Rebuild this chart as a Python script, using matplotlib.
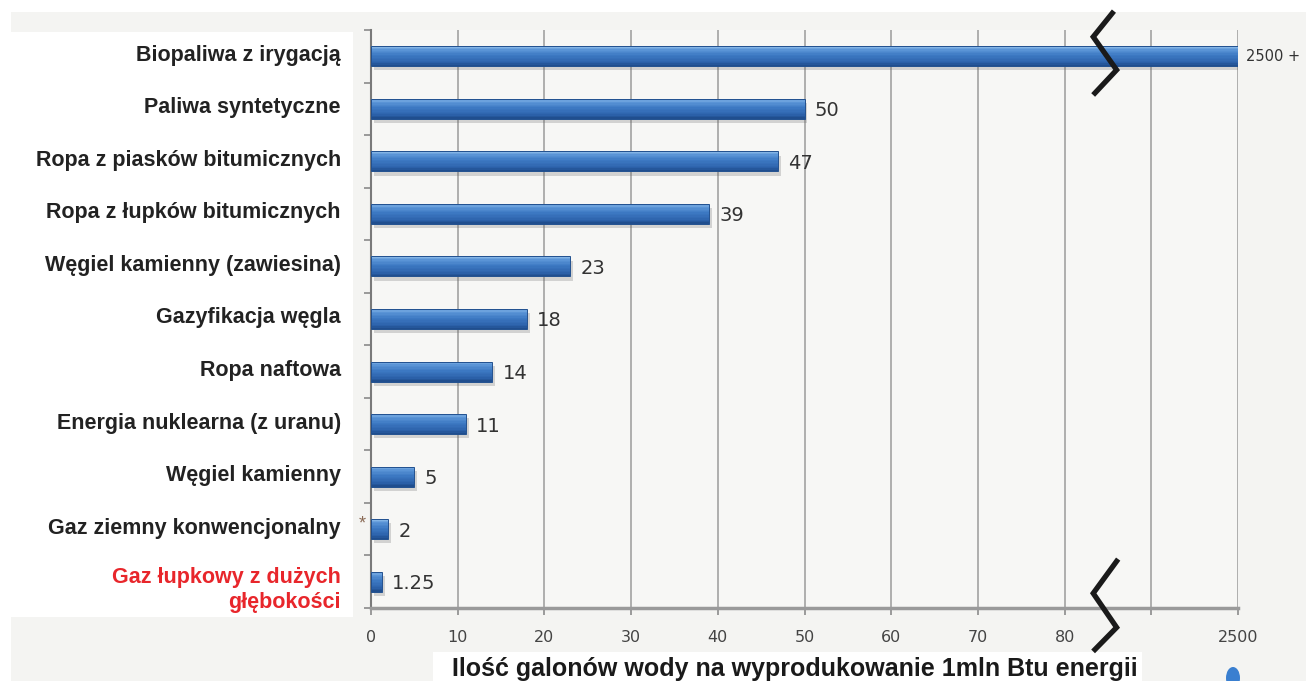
import numpy as np
import matplotlib
matplotlib.use("Agg")
import matplotlib.pyplot as plt
from matplotlib.patches import Rectangle, Ellipse
from matplotlib import patheffects as pe
from matplotlib.colors import LinearSegmentedColormap
from matplotlib.transforms import offset_copy

# ---- data -------------------------------------------------------------
categories = [
    "Biopaliwa z irygacją",
    "Paliwa syntetyczne",
    "Ropa z piasków bitumicznych",
    "Ropa z łupków bitumicznych",
    "Węgiel kamienny (zawiesina)",
    "Gazyfikacja węgla",
    "Ropa naftowa",
    "Energia nuklearna (z uranu)",
    "Węgiel kamienny",
    "Gaz ziemny konwencjonalny",
    "Gaz łupkowy z dużych\ngłębokości",
]
values = [2500, 50, 47, 39, 23, 18, 14, 11, 5, 2, 1.25]
value_labels = ["2500 +", "50", "47", "39", "23", "18", "14", "11", "5", "2", "1.25"]
tick_values = [0, 10, 20, 30, 40, 50, 60, 70, 80, 90, 2500]
tick_labels = ["0", "10", "20", "30", "40", "50", "60", "70", "80", "", "2500"]
x_title = "Ilość galonów wody na wyprodukowanie 1mln Btu energii"

# ---- broken x scale: linear up to 90, then compressed up to 2500 --------
BREAK, TOP, SPAN = 90.0, 2500.0, 10.0


def fwd(v):
    v = np.asarray(v, dtype=float)
    return np.where(v <= BREAK, v, BREAK + (v - BREAK) * SPAN / (TOP - BREAK))


def inv(u):
    u = np.asarray(u, dtype=float)
    return np.where(u <= BREAK, u, BREAK + (u - BREAK) * (TOP - BREAK) / SPAN)


plt.rcParams["font.family"] = ["Liberation Sans", "DejaVu Sans"]
NUM_FONT = "DejaVu Sans"

fig = plt.figure(figsize=(13.06, 6.81), dpi=100, facecolor="white")
W, H = 1306.0, 681.0

# background panels
fig.patches.append(Rectangle((11 / W, 0), 1 - 11 / W, 1 - 12 / H,
                             transform=fig.transFigure, facecolor="#f4f4f2",
                             edgecolor="none", zorder=-10))
fig.patches.append(Rectangle((11 / W, 1 - 617 / H), (353 - 11) / W, (617 - 32) / H,
                             transform=fig.transFigure, facecolor="white",
                             edgecolor="none", zorder=-9))
fig.patches.append(Rectangle((433 / W, 0), (1142 - 433) / W, (681 - 652) / H,
                             transform=fig.transFigure, facecolor="white",
                             edgecolor="none", zorder=-9))

ax = fig.add_axes([371 / W, 1 - 608 / H, (1238 - 371) / W, (608 - 30) / H])
ax.set_facecolor("#f7f7f5")
ax.set_xscale("function", functions=(fwd, inv))
ax.set_xlim(0, TOP)

y = np.arange(len(categories))
ax.set_ylim(len(categories) - 0.5, -0.5)
bar_h = 0.38

# base bars with a soft drop shadow
base = ax.barh(y, values, height=bar_h, color="#3a74bf", edgecolor="none", zorder=3)
for b in base:
    b.set_path_effects([pe.SimplePatchShadow(offset=(2, -3), shadow_rgbFace="#666666",
                                             alpha=0.25), pe.Normal()])

# vertical shading of bars drawn as thin stripes
shade = LinearSegmentedColormap.from_list(
    "barshade", [(0, "#8fbde9"), (0.15, "#5d97d8"), (0.45, "#3d79c3"),
                 (0.8, "#2d63ac"), (1, "#1d4988")])
n_str = 14
for k in range(n_str):
    off = -bar_h / 2 + (k + 0.5) * bar_h / n_str
    ax.barh(y + off, values, height=bar_h / n_str * 1.05,
            color=shade((k + 0.5) / n_str), edgecolor="none", zorder=4)
ax.barh(y, values, height=bar_h, facecolor="none", edgecolor="#21508f",
        linewidth=0.7, zorder=5)

# value labels
for yi, v, lab in zip(y, values, value_labels):
    big = v > BREAK
    ax.annotate(lab, xy=(v, yi), xytext=(8 if big else 10, 0 if big else -2),
                textcoords="offset pixels", ha="left", va="center",
                fontsize=10.5 if big else 14, color="#333333", zorder=6,
                family=NUM_FONT)

# category labels
lab_tr = ax.get_yaxis_transform()
for yi, name in zip(y, categories):
    red = "\n" in name
    tr = offset_copy(lab_tr, fig=fig, x=-30, y=-8 if red else 1, units="dots")
    ax.text(0, yi, name, transform=tr, ha="right", va="center",
            multialignment="right", fontsize=15.5, fontweight="bold",
            color="#e8262b" if red else "#222222", linespacing=1.25)

# asterisk next to conventional gas
ax.annotate("*", xy=(0, 9), xytext=(-9, 5), textcoords="offset pixels",
            ha="center", va="center", fontsize=13, color="#8a6a55",
            annotation_clip=False)

# axes styling
ax.set_xticks(tick_values)
ax.set_xticklabels(tick_labels, family=NUM_FONT)
ax.tick_params(axis="x", direction="out", length=5, width=1.4, color="#9a9a9a",
               labelsize=11.5, labelcolor="#444444", pad=11)
ax.set_yticks(y)
ax.set_yticklabels([])
ax.tick_params(axis="y", which="major", length=0)
ax.set_yticks(np.arange(-0.5, len(categories)), minor=True)
ax.tick_params(axis="y", which="minor", direction="out", length=5, width=1.2,
               color="#8a8a8a")
ax.xaxis.grid(True, color="#a2a2a2", linewidth=1.2, zorder=0)
ax.set_axisbelow(True)
for side in ("top", "right"):
    ax.spines[side].set_visible(False)
ax.spines["left"].set_color("#7a7a7a")
ax.spines["left"].set_linewidth(1.5)
ax.spines["bottom"].set_color("#9a9a9a")
ax.spines["bottom"].set_linewidth(2.5)

# axis break markers
ax.plot([85.5, 83.3, 86.0, 83.5], [-0.82, -0.37, 0.26, 0.70], color="#1a1a1a",
        lw=3.8, solid_joinstyle="miter", clip_on=False, zorder=10)
ax.plot([86.0, 83.3, 86.0, 83.5], [9.61, 10.22, 10.87, 11.29], color="#1a1a1a",
        lw=3.8, solid_joinstyle="miter", clip_on=False, zorder=10)

# axis title
fig.text(795 / W, 1 - 669 / H, x_title, ha="center", va="center",
         fontsize=18, fontweight="bold", color="#1a1a1a")

# small droplet mark in the corner
fig.patches.append(Ellipse((1233 / W, 1 - 678 / H), 14 / W, 22 / H,
                           transform=fig.transFigure, facecolor="#3a7fd0",
                           edgecolor="none", zorder=5))

fig.savefig("out.png", dpi=100, facecolor=fig.get_facecolor())
